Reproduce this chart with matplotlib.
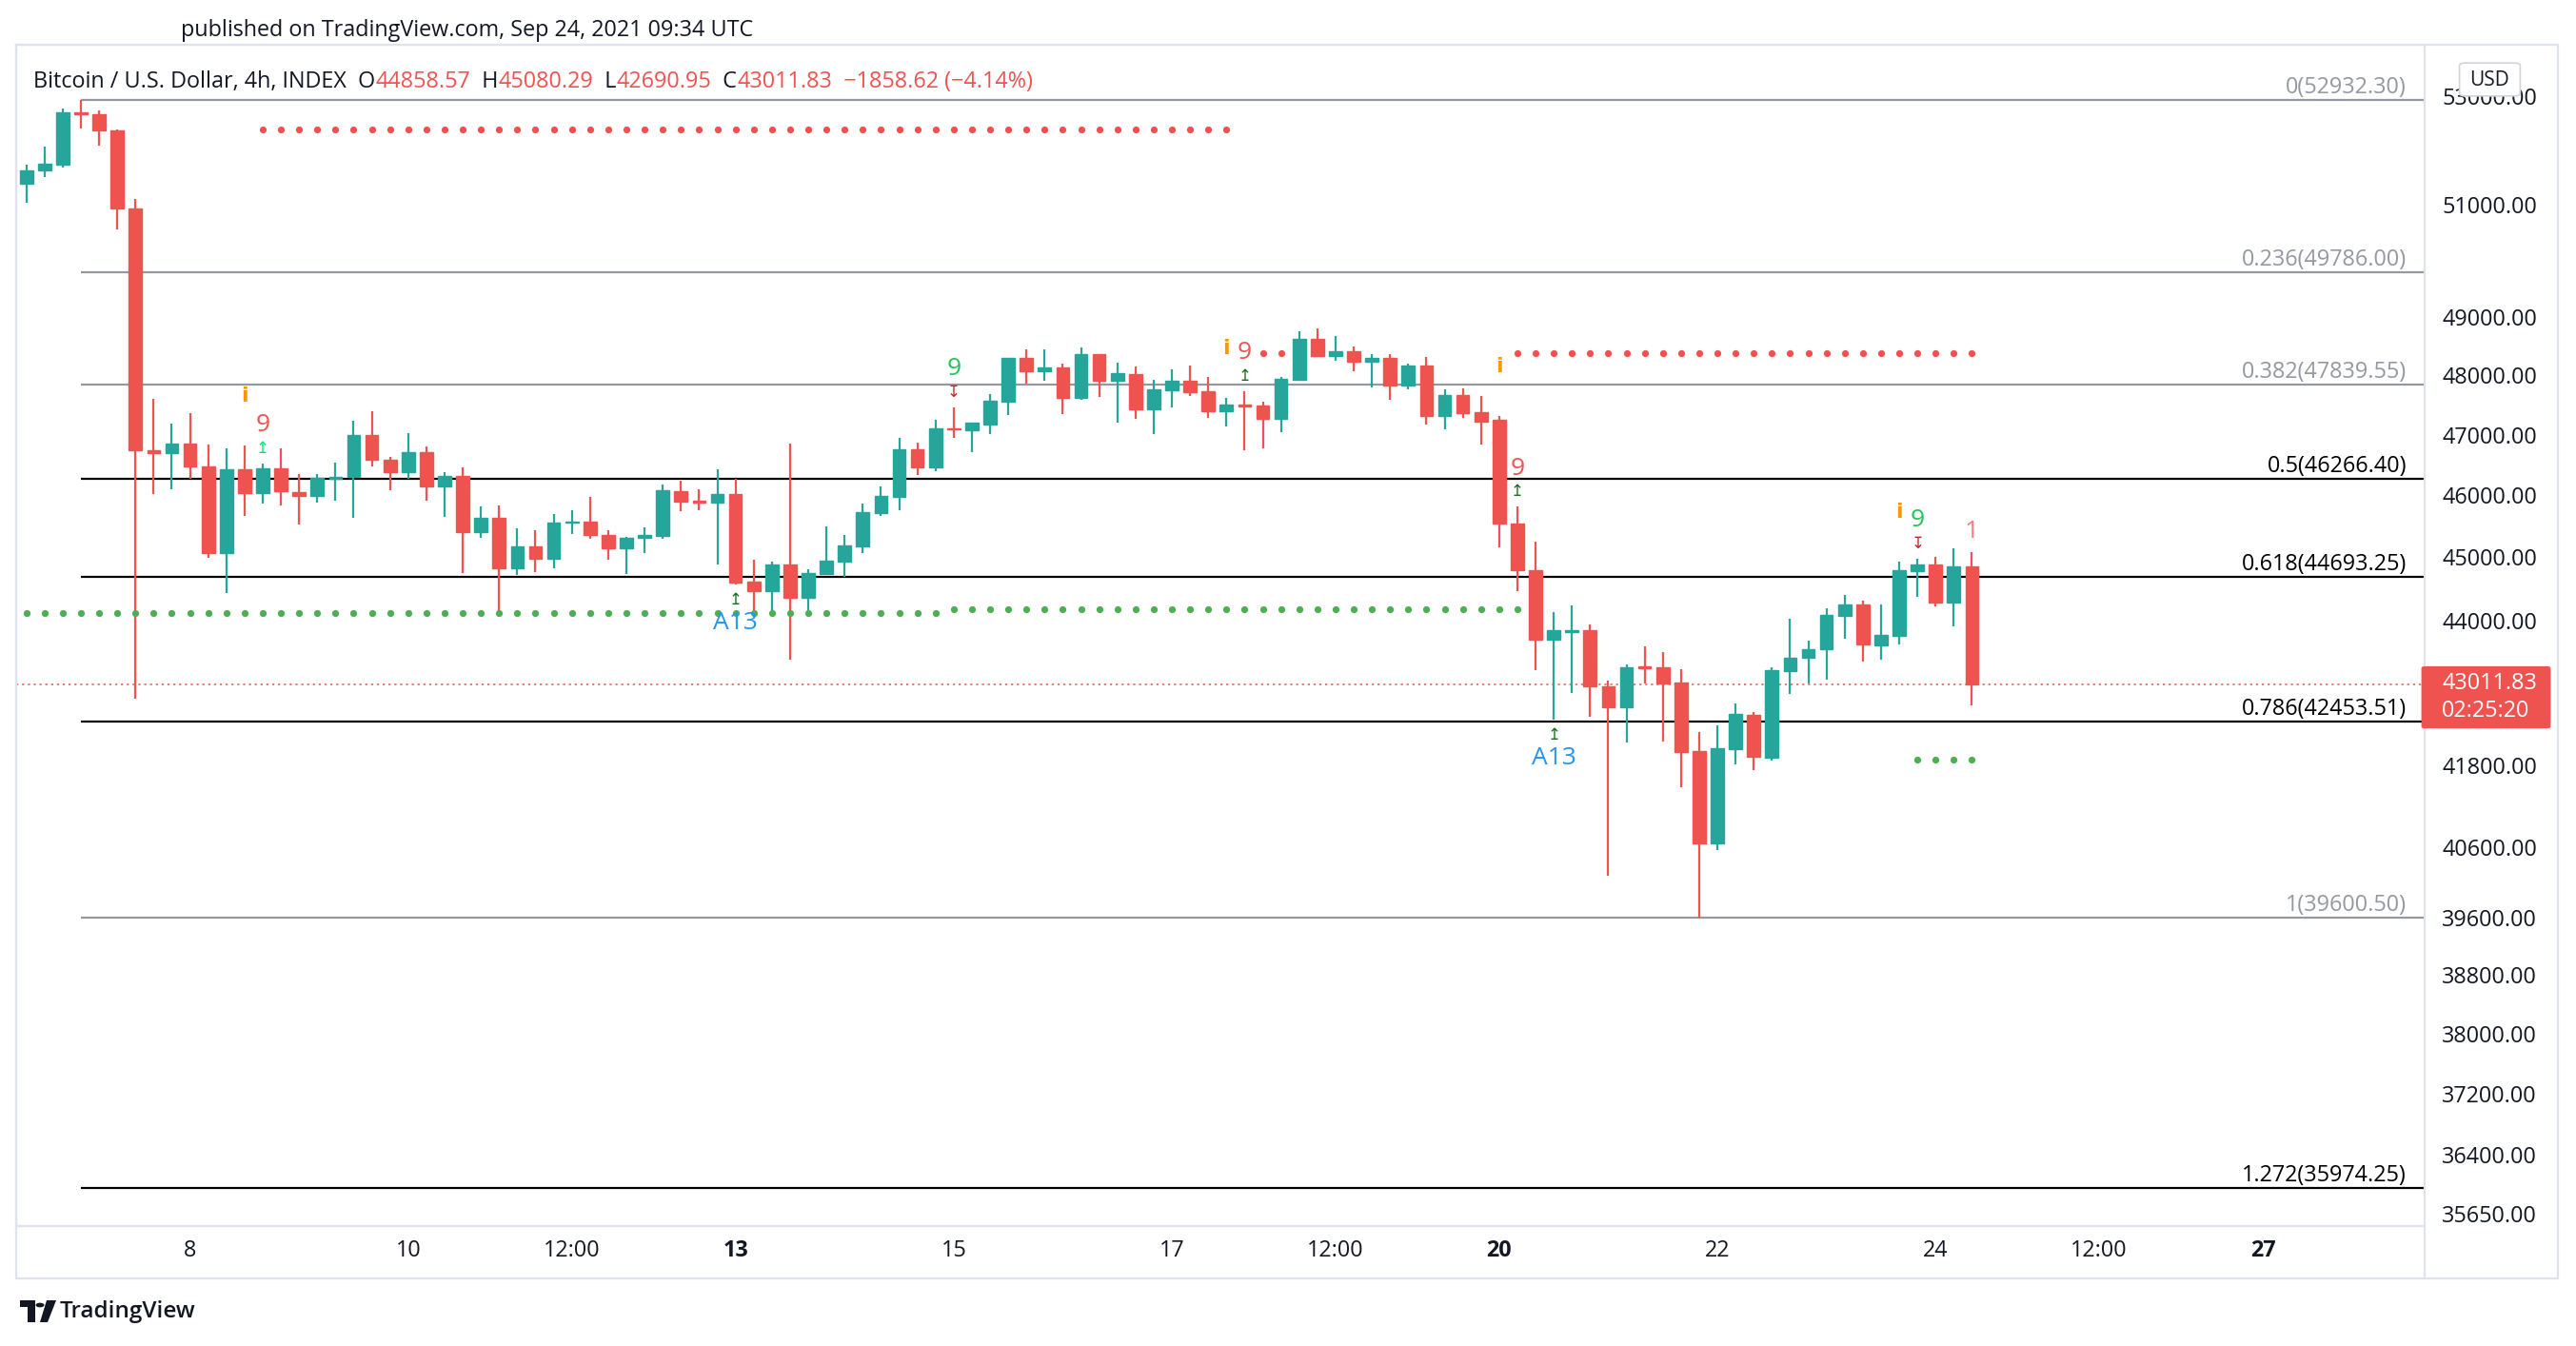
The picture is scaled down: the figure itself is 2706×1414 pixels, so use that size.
import numpy as np
import pandas as pd
import matplotlib.pyplot as plt
from matplotlib.patches import Rectangle, FancyBboxPatch, Polygon, Circle
from matplotlib.ticker import FixedLocator, NullLocator

plt.rcParams['font.family'] = ['Open Sans', 'DejaVu Sans']

# 4h BTCUSD bars, first bar opens 2021-09-06 12:00 UTC
start = pd.Timestamp('2021-09-06 12:00')

opens = [51386, 51619, 51736, 52694, 52664, 52361, 50938, 46743, 46690, 46855,
         46472, 45059, 46427, 46042, 46447, 46055, 45984, 46275, 46296, 46992,
         46584, 46375, 46711, 46138, 46321, 45395, 45634, 44828, 45170, 44981,
         45552, 45567, 45353, 45149, 45307, 45347, 46068, 45909, 45887, 46022,
         44612, 44467, 44880, 44362, 44737, 44935, 45179, 45712, 45980, 46754,
         46464, 47107, 47080, 47176, 47560, 48301, 48072, 48137, 47625, 48366,
         47910, 48023, 47433, 47753, 47910, 47732, 47401, 47503, 47492, 47272,
         47926, 48627, 48338, 48409, 48236, 48301, 47828, 48170, 47320, 47668,
         47379, 47251, 45542, 44791, 43707, 43825, 43845, 42988, 42662, 43286,
         43276, 43041, 42006, 40653, 42039, 42550, 41909, 43222, 43423, 43556,
         44078, 44253, 43618, 43766, 44776, 44880, 44283, 44858.57]
highs = [51722, 52065, 52769, 52932.30, 52739, 52384, 51096, 47602, 47188, 47367,
         46841, 46775, 46822, 46526, 46775, 46348, 46348, 46539, 47235, 47395,
         46631, 47025, 46808, 46375, 46459, 45816, 45829, 45459, 45429, 45697,
         45759, 45975, 45429, 45322, 45479, 46173, 46244, 46099, 46427, 46270,
         44961, 44930, 46855, 44804, 45490, 45353, 45863, 46146, 46948, 46870,
         47251, 47459, 47198, 47683, 48301, 48448, 48448, 48202, 48481, 48366,
         48219, 48153, 47926, 48105, 48170, 47975, 47620, 47732, 47556, 47975,
         48759, 48809, 48677, 48497, 48366, 48366, 48202, 48317, 47764, 47780,
         47652, 47315, 45817, 45250, 44133, 44236, 43938, 43072, 43315, 43591,
         43503, 43246, 42293, 42393, 42725, 42594, 43276, 44028, 43688, 44192,
         44404, 44313, 44253, 44928, 44977, 45007, 45143, 45080.29]
lows = [51026, 51510, 51670, 52405, 52086, 50546, 42789, 46028, 46099, 46263,
        44995, 44438, 45659, 45861, 45829, 45531, 45887, 45918, 45627, 46466,
        46075, 46263, 45918, 45641, 44740, 45313, 44125, 44722, 44767, 44828,
        45377, 45301, 44966, 44737, 45059, 45301, 45748, 45764, 44885, 44572,
        44151, 44151, 43398, 44151, 44737, 44691, 45059, 45661, 45764, 46339,
        46402, 46948, 46711, 47011, 47336, 47861, 47910, 47347, 47593, 47641,
        47208, 47272, 47015, 47465, 47657, 47288, 47144, 46747, 46779, 47048,
        47910, 48338, 48252, 48072, 47795, 47593, 47764, 47176, 47096, 47288,
        46842, 45164, 44467, 43236, 42482, 42876, 42525, 40192, 42138, 43026,
        42148, 41476, 39600.50, 40558, 41813, 41727, 41866, 42871, 43026, 43085,
        43718, 43364, 43398, 43633, 44372, 44223, 43909, 42690.95]
closes = [51626, 51750, 52701, 52664, 52354, 50938, 46743, 46696, 46855, 46466,
          45059, 46427, 46042, 46447, 46061, 45984, 46288, 46302, 46992, 46578,
          46375, 46711, 46138, 46321, 45395, 45634, 44828, 45170, 44981, 45557,
          45572, 45362, 45149, 45307, 45353, 46084, 45903, 45883, 46022, 44597,
          44467, 44880, 44362, 44743, 44946, 45185, 45723, 45990, 46754, 46464,
          47101, 47086, 47198, 47571, 48301, 48072, 48137, 47625, 48366, 47910,
          48040, 47433, 47764, 47910, 47721, 47401, 47503, 47481, 47272, 47942,
          48627, 48338, 48409, 48236, 48301, 47828, 48170, 47320, 47668, 47368,
          47224, 45547, 44791, 43707, 43850, 43845, 42978, 42662, 43276, 43261,
          43026, 41997, 40653, 42049, 42565, 41923, 43232, 43423, 43556, 44089,
          44253, 43633, 43776, 44791, 44880, 44283, 44851, 43011.83]

# Fibonacci retracement drawn from the Sep 7 high
fib_ratios = ['0', '0.236', '0.382', '0.5', '0.618', '0.786', '1', '1.272']
fib_prices = [52932.30, 49786.00, 47839.55, 46266.40, 44693.25, 42453.51, 39600.50, 35974.25]
fib_dark = [False, False, False, True, True, True, False, True]
fib_anchor = pd.Timestamp('2021-09-07 00:00')

price_ticks = [53000, 51000, 49000, 48000, 47000, 46000, 45000, 44000,
               41800, 40600, 39600, 38800, 38000, 37200, 36400, 35650]

time_ticks = ['2021-09-08', '2021-09-10', '2021-09-11 12:00', '2021-09-13',
              '2021-09-15', '2021-09-17', '2021-09-18 12:00', '2021-09-20',
              '2021-09-22', '2021-09-24', '2021-09-25 12:00', '2021-09-27']
time_labels = ['8', '10', '12:00', '13', '15', '17', '12:00', '20', '22', '24', '12:00', '27']
bold_labels = ['13', '20', '27']

# TD sequential support / resistance dots: (first bar, last bar, level)
resist_dots = [(13, 66, 52384), (68, 69, 48373), (82, 107, 48373)]
support_dots = [(0, 50, 44120), (51, 82, 44178), (104, 107, 41884)]

# TD sequential labels: (bar, kind)
td_marks = [(12, 'info'), (13, 'sell9'), (13, 'up_bright'),
            (39, 'A13'), (39, 'up_low'),
            (51, 'buy9'), (51, 'down'),
            (66, 'info'), (67, 'sell9'), (67, 'up'),
            (81, 'info'), (82, 'sell9'), (82, 'up'),
            (84, 'A13'), (84, 'up_low'),
            (103, 'info'), (104, 'buy9'), (104, 'down'),
            (107, 'one')]

UP = '#26a69a'
DOWN = '#ef5350'
TXT = '#131722'
GRAY = '#9598a1'
BORDER = '#e0e3eb'
FS = 16.8

W, H = 2706, 1414
fig = plt.figure(figsize=(W / 100, H / 100), dpi=100)
fig.patch.set_facecolor('white')


def fxp(px):
    return px / W


def fyp(py):
    return 1 - py / H


ax = fig.add_axes([fxp(17), fyp(1288), fxp(2547) - fxp(17), fyp(47) - fyp(1288)])
ax.set_yscale('log')

opens = np.array(opens, dtype=float)
highs = np.array(highs, dtype=float)
lows = np.array(lows, dtype=float)
closes = np.array(closes, dtype=float)
x = np.arange(len(opens))
up = closes >= opens
colors = np.where(up, UP, DOWN)

# candles
ax.vlines(x, lows, highs, colors=colors, linewidth=1.6, zorder=3)
body_lo = np.minimum(opens, closes)
body_hi = np.maximum(opens, closes)
ax.bar(x, body_hi - body_lo, bottom=body_lo, width=0.72, color=colors,
       edgecolor=colors, linewidth=1.0, zorder=4)

x_left, x_right = -0.56, 131.9
ax.set_xlim(x_left, x_right)
ax.set_ylim(35488, 53979)

# fib levels
fx0 = (fib_anchor - start) / pd.Timedelta(hours=4)
for r, p, dark in zip(fib_ratios, fib_prices, fib_dark):
    c = 'black' if dark else GRAY
    ax.hlines(p, fx0, x_right, colors=c, linewidth=1.6, zorder=2)
    ax.annotate(f'{r}({p:.2f})', xy=(x_right, p), xytext=(-19, 1),
                textcoords='offset pixels', ha='right', va='bottom',
                fontsize=FS, color=c, zorder=5)

# last price line
last = closes[-1]
ax.axhline(last, color=DOWN, linewidth=1.1, linestyle=(0, (1.5, 2.5)), zorder=2)

# TD dots
for a, b, lvl in resist_dots:
    xs = np.arange(a, b + 1)
    ax.plot(xs, np.full(len(xs), lvl), 'o', color='#f44f4f', markersize=5.2,
            markeredgewidth=0, zorder=6)
for a, b, lvl in support_dots:
    xs = np.arange(a, b + 1)
    ax.plot(xs, np.full(len(xs), lvl), 'o', color='#4caf50', markersize=5.2,
            markeredgewidth=0, zorder=6)

# TD labels: text, colour, pixel offset from high (+) or low (-), size, weight
ARW_UP, ARW_DN = '\u21a5', '\u21a7'
styles = {
    'info': ('i', '#ff9800', 52, 16, 'bold'),
    'sell9': ('9', '#f05454', 40, 19, 'normal'),
    'buy9': ('9', '#1ec85a', 40, 19, 'normal'),
    'up_bright': (ARW_UP, '#00e676', 16, 12, 'normal'),
    'up': (ARW_UP, '#1b6e1b', 16, 12, 'normal'),
    'up_low': (ARW_UP, '#1b6e1b', -16, 12, 'normal'),
    'down': (ARW_DN, '#c62828', 16, 12, 'normal'),
    'A13': ('A13', '#2196f3', -41, 19, 'normal'),
    'one': ('1', '#f77b7b', 22, 19, 'normal'),
}
for i, kind in td_marks:
    text, col, off, size, weight = styles[kind]
    y = highs[i] if off > 0 else lows[i]
    fam = ['DejaVu Sans'] if text in (ARW_UP, ARW_DN, 'i') else None
    ax.annotate(text, xy=(i, y), xytext=(0, off), textcoords='offset pixels',
                ha='center', va='center', fontsize=size, color=col,
                fontweight=weight, family=fam, zorder=7)

# axes styling
for sp in ax.spines.values():
    sp.set_color(BORDER)
    sp.set_linewidth(1.6)
ax.yaxis.tick_right()
ax.yaxis.set_major_locator(FixedLocator(price_ticks))
ax.yaxis.set_minor_locator(NullLocator())
ax.set_yticklabels([f'{t:.2f}' for t in price_ticks])
ax.tick_params(axis='y', length=0, pad=13, labelsize=FS, labelcolor=TXT)

tick_pos = [(pd.Timestamp(t) - start) / pd.Timedelta(hours=4) for t in time_ticks]
ax.set_xticks(tick_pos)
ax.set_xticklabels(time_labels)
ax.xaxis.set_minor_locator(NullLocator())
ax.tick_params(axis='x', length=0, pad=10, labelsize=FS, labelcolor=TXT)
for lab in ax.get_xticklabels():
    if lab.get_text() in bold_labels:
        lab.set_fontweight('bold')

# outer chart frame
fig.add_artist(Rectangle((fxp(17), fyp(1343)), fxp(2687) - fxp(17), fyp(47) - fyp(1343),
                         fill=False, edgecolor=BORDER, linewidth=1.6))
fig.add_artist(plt.Line2D([fxp(2547), fxp(2547)], [fyp(1288), fyp(1343)],
                          color=BORDER, linewidth=1.6))

# USD badge over top price label
fig.add_artist(FancyBboxPatch((fxp(2589), fyp(98)), fxp(2642) - fxp(2589), fyp(69) - fyp(98),
                              boxstyle='round,pad=0.002', facecolor='white',
                              edgecolor='#d1d4dc', linewidth=1.2, zorder=10))
fig.text(fxp(2615.5), fyp(84), 'USD', ha='center', va='center', fontsize=15,
         color=TXT, zorder=11)

# last price tag
fig.canvas.draw()
_, ypix = ax.transData.transform((0, last))
ytop = H - ypix
tag_top, tag_bot = ytop - 17, ytop + 44
fig.add_artist(FancyBboxPatch((fxp(2547), fyp(tag_bot)), fxp(2676) - fxp(2547),
                              fyp(tag_top) - fyp(tag_bot), boxstyle='round,pad=0.001',
                              facecolor=DOWN, edgecolor=DOWN, zorder=10))
fig.text(fxp(2565), fyp(tag_top + 16), f'{last:.2f}', ha='left', va='center',
         fontsize=FS, color='white', zorder=11)
fig.text(fxp(2565), fyp(tag_top + 45), '02:25:20', ha='left', va='center',
         fontsize=FS, color='white', zorder=11)

# header texts
fig.text(fxp(190), fyp(32), 'published on TradingView.com, Sep 24, 2021 09:34 UTC',
         ha='left', va='center', fontsize=FS, color=TXT)

legend_parts = [('Bitcoin / U.S. Dollar, 4h, INDEX  O', TXT), ('44858.57', DOWN),
                ('  H', TXT), ('45080.29', DOWN), ('  L', TXT), ('42690.95', DOWN),
                ('  C', TXT), ('43011.83', DOWN), ('  \u22121858.62 (\u22124.14%)', DOWN)]
cur = fig.text(fxp(35), fyp(86), legend_parts[0][0], ha='left', va='center',
               fontsize=FS, color=legend_parts[0][1])
for txt, col in legend_parts[1:]:
    cur = ax.annotate(txt, xy=(1, 0), xycoords=cur, ha='left', va='bottom',
                      fontsize=FS, color=col, annotation_clip=False)

# TradingView logo
fig.add_artist(Rectangle((fxp(21), fyp(1373)), fxp(37) - fxp(21), fyp(1366) - fyp(1373),
                         facecolor=TXT, edgecolor='none'))
fig.add_artist(Rectangle((fxp(29), fyp(1389)), fxp(37) - fxp(29), fyp(1366) - fyp(1389),
                         facecolor=TXT, edgecolor='none'))
fig.add_artist(Polygon([(fxp(49), fyp(1366)), (fxp(59), fyp(1366)),
                        (fxp(50), fyp(1389)), (fxp(42), fyp(1389))],
                       closed=True, facecolor=TXT, edgecolor='none'))
fig.add_artist(Circle((fxp(42), fyp(1371)), 4.5 / W, facecolor=TXT, edgecolor='none'))
fig.text(fxp(63), fyp(1378), 'TradingView', ha='left', va='center', fontsize=17.5,
         color=TXT, fontweight='semibold')

fig.savefig('out.png', dpi=100, facecolor='white')
